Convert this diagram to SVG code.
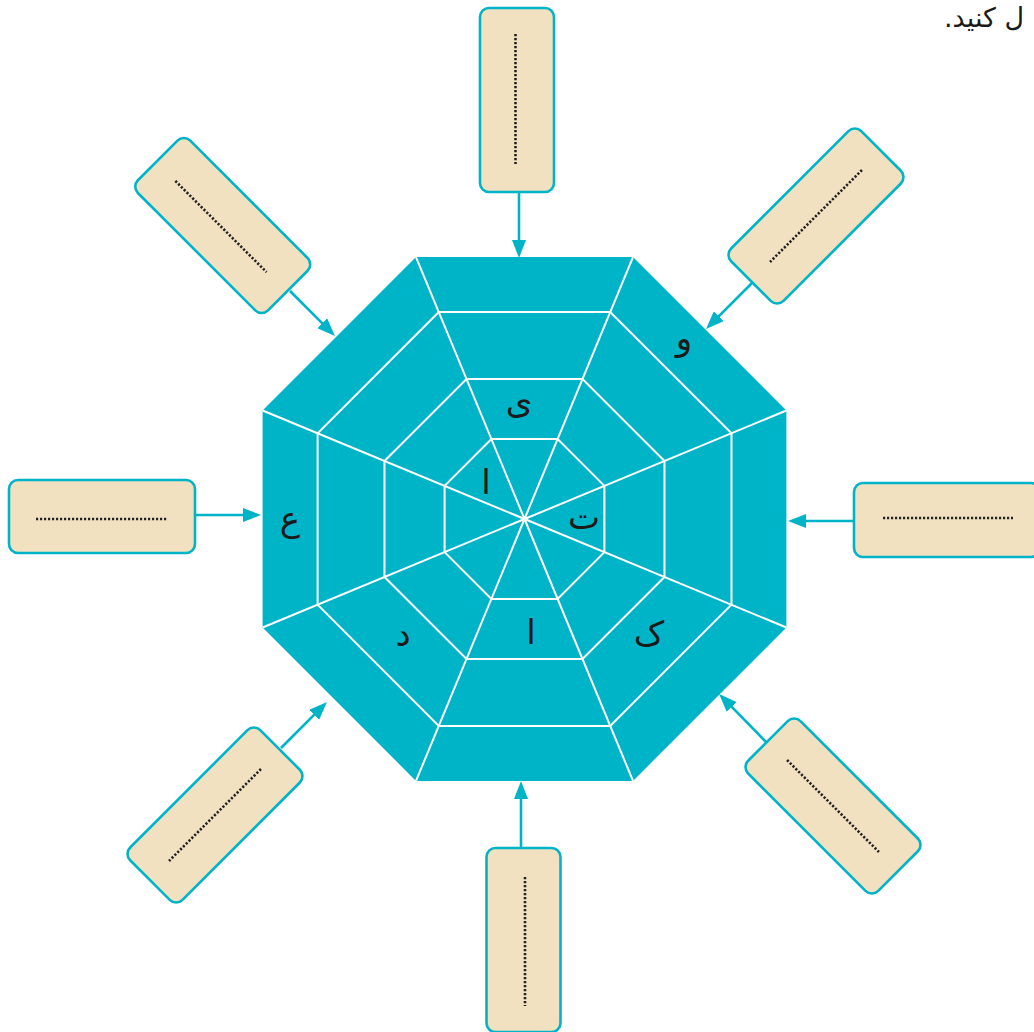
<svg xmlns="http://www.w3.org/2000/svg" width="1034" height="1032" viewBox="0 0 1034 1032">
<style>
.oct{fill:#00b4c8;stroke:none}
.wl{fill:none;stroke:#ffffff;stroke-width:2;stroke-linejoin:miter}
.box{fill:#f2e1c1;stroke:#00b4c8;stroke-width:2.6}
.dot{stroke:#222;stroke-width:2.6;stroke-dasharray:2.2 1.8}
.con{stroke:#00b4c8;stroke-width:2.6;fill:none}
.lt{font-family:"DejaVu Sans","Noto Sans",sans-serif;font-size:34px;fill:#1a1a1a;text-anchor:middle}
</style>
<defs>
<marker id="ah" viewBox="0 0 18 14" refX="10" refY="7" markerWidth="18" markerHeight="14" markerUnits="userSpaceOnUse" orient="auto">
<path d="M0,0 L18,7 L0,14 Z" fill="#00b4c8"/>
</marker>
</defs>
<rect width="1034" height="1032" fill="#ffffff"/>
<text x="944" y="27" direction="rtl" text-anchor="end" font-family="DejaVu Sans, sans-serif" font-size="27" fill="#1a1a1a">ل کنید.</text>
<g id="octagon">
<polygon class="oct" points="786.4,410.5 633,257.1 416,257.1 262.6,410.5 262.6,627.5 416,780.9 633,780.9 786.4,627.5"/>
<polygon class="wl" points="731.5,433.3 610.2,312 438.8,312 317.6,433.3 317.6,604.7 438.8,726 610.2,726 731.5,604.7"/>
<polygon class="wl" points="664.5,461 582.5,379 466.5,379 384.5,461 384.5,577 466.5,659 582.5,659 664.5,577"/>
<polygon class="wl" points="604.4,485.9 557.6,439.1 491.4,439.1 444.6,485.9 444.6,552.1 491.4,598.9 557.6,598.9 604.4,552.1"/>
<path class="wl" d="M524.5,519 L786.4,410.5 M524.5,519 L633,257.1 M524.5,519 L416,257.1 M524.5,519 L262.6,410.5 M524.5,519 L262.6,627.5 M524.5,519 L416,780.9 M524.5,519 L633,780.9 M524.5,519 L786.4,627.5"/>
<text class="lt" x="684" y="350">و</text>
<text class="lt" x="519" y="413">ی</text>
<text class="lt" x="486" y="494">ا</text>
<text class="lt" x="584" y="529">ت</text>
<text class="lt" x="649" y="646">ک</text>
<text class="lt" x="531" y="644">ا</text>
<text class="lt" x="403" y="646">د</text>
<text class="lt" x="290" y="531">ع</text>
</g>
<g id="connectors">
<line class="con" x1="519" y1="192" x2="519" y2="250" marker-end="url(#ah)"/>
<line class="con" x1="752" y1="283" x2="711.7" y2="323.3" marker-end="url(#ah)"/>
<line class="con" x1="854" y1="521" x2="796" y2="521" marker-end="url(#ah)"/>
<line class="con" x1="766" y1="742" x2="724.7" y2="699.7" marker-end="url(#ah)"/>
<line class="con" x1="521" y1="848" x2="521" y2="789" marker-end="url(#ah)"/>
<line class="con" x1="281" y1="748" x2="321.3" y2="707.7" marker-end="url(#ah)"/>
<line class="con" x1="195" y1="515" x2="253" y2="515" marker-end="url(#ah)"/>
<line class="con" x1="290" y1="291" x2="329.3" y2="330.3" marker-end="url(#ah)"/>
</g>
<g id="box-top" transform="translate(517,100)">
<rect class="box" x="-37" y="-92" width="74" height="184" rx="9"/>
<line class="dot" x1="-1.5" y1="-66" x2="-1.5" y2="64"/>
</g>
<g id="box-top-right" transform="translate(816,216) rotate(45)">
<rect class="box" x="-37" y="-92" width="74" height="184" rx="9"/>
<line class="dot" x1="0" y1="-65" x2="0" y2="65"/>
</g>
<g id="box-right" transform="translate(947,520)">
<rect class="box" x="-93" y="-37" width="186" height="74" rx="9"/>
<line class="dot" x1="-64" y1="-2" x2="66" y2="-2"/>
</g>
<g id="box-bottom-right" transform="translate(833,806) rotate(-45)">
<rect class="box" x="-37" y="-92" width="74" height="184" rx="9"/>
<line class="dot" x1="0" y1="-65" x2="0" y2="65"/>
</g>
<g id="box-bottom" transform="translate(523.5,940)">
<rect class="box" x="-37" y="-92" width="74" height="184" rx="9"/>
<line class="dot" x1="1.5" y1="-63" x2="1.5" y2="66"/>
</g>
<g id="box-bottom-left" transform="translate(215,815) rotate(45)">
<rect class="box" x="-37" y="-92" width="74" height="184" rx="9"/>
<line class="dot" x1="0" y1="-65" x2="0" y2="65"/>
</g>
<g id="box-left" transform="translate(102,516.5)">
<rect class="box" x="-93" y="-36.5" width="186" height="73" rx="9"/>
<line class="dot" x1="-66" y1="2.5" x2="65" y2="2.5"/>
</g>
<g id="box-top-left" transform="translate(222.75,225.5) rotate(-45)">
<rect class="box" x="-37" y="-92" width="74" height="184" rx="9"/>
<line class="dot" x1="-2" y1="-65" x2="-2" y2="64"/>
</g>
</svg>
